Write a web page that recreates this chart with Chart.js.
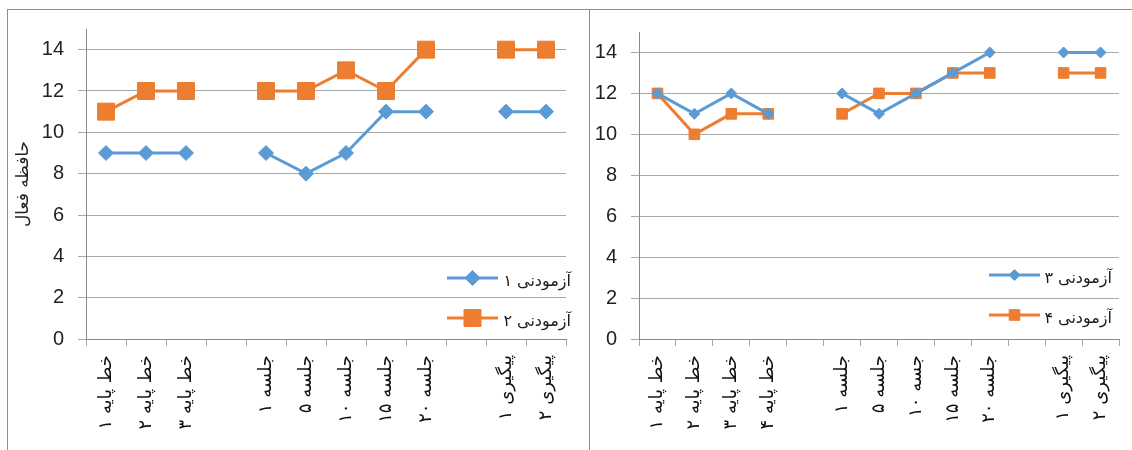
<!DOCTYPE html>
<html lang="fa">
<head>
    <meta charset="UTF-8">
    <title>حافظه فعال - آزمودنی‌ها</title>
    <script src="https://cdn.jsdelivr.net/npm/chart.js"></script>
    <style>
        body {
            margin: 0;
            background: #fff;
            width: 1132px;
            height: 450px;
            overflow: hidden;
            position: relative;
        }
        .box {
            position: absolute;
            top: 9px;
            height: 441px;
            border-top: 1px solid #8c8c8c;
        }
        #boxLeft {
            left: 7px;
            width: 581px;
            border-left: 1px solid #8c8c8c;
            border-right: 1px solid #8c8c8c;
        }
        #boxRight {
            left: 590px;
            width: 542px;
        }
    </style>
</head>
<body>
    <div class="box" id="boxLeft"><canvas id="chartLeft" width="581" height="440"></canvas></div>
    <div class="box" id="boxRight"><canvas id="chartRight" width="542" height="440"></canvas></div>

    <script>
        // نمودار چپ: آزمودنی ۱ و ۲
        const labelsLeft = ['خط پایه ۱', 'خط پایه ۲', 'خط پایه ۳', '', 'جلسه ۱', 'جلسه ۵', 'جلسه ۱۰', 'جلسه ۱۵', 'جلسه ۲۰', '', 'پیگیری ۱', 'پیگیری ۲'];
        const subject1 = [9, 9, 9, null, 9, 8, 9, 11, 11, null, 11, 11];
        const subject2 = [11, 12, 12, null, 12, 12, 13, 12, 14, null, 14, 14];

        // نمودار راست: آزمودنی ۳ و ۴
        const labelsRight = ['خط پایه ۱', 'خط پایه ۲', 'خط پایه ۳', 'خط پایه ۴', '', 'جلسه ۱', 'جلسه ۵', 'جسه ۱۰', 'جلسه ۱۵', 'جلسه ۲۰', '', 'پیگیری ۱', 'پیگیری ۲'];
        const subject3 = [12, 11, 12, 11, null, 12, 11, 12, 13, 14, null, 14, 14];
        const subject4 = [12, 10, 11, 11, null, 11, 12, 12, 13, 13, null, 13, 13];

        const yMin = 0;
        const yMax = 15;
        const yStep = 2;

        const BLUE = '#5b9bd5';
        const ORANGE = '#ed7d31';
        const GRID = '#a9a9a9';
        const AXIS = '#8a8a8a';

        // legend drawn inside the plot area (bottom right), like the Excel original
        const insideLegend = {
            id: 'insideLegend',
            afterDraw(chart, args, opts) {
                const ctx = chart.ctx;
                const area = chart.chartArea;
                chart.data.datasets.forEach((ds, i) => {
                    const y = area.bottom + opts.rows[i];
                    const x0 = area.right + opts.lineFrom;
                    const x1 = area.right + opts.lineTo;
                    ctx.save();
                    ctx.strokeStyle = ds.borderColor;
                    ctx.lineWidth = ds.borderWidth;
                    ctx.beginPath();
                    ctx.moveTo(x0, y);
                    ctx.lineTo(x1, y);
                    ctx.stroke();
                    ctx.fillStyle = ds.backgroundColor;
                    ctx.lineWidth = 1;
                    Chart.helpers.drawPoint(ctx, { pointStyle: ds.pointStyle, radius: ds.pointRadius, borderWidth: 1, rotation: 0 }, (x0 + x1) / 2, y);
                    ctx.fillStyle = '#1a1a1a';
                    ctx.font = opts.font;
                    ctx.textAlign = 'right';
                    ctx.textBaseline = 'middle';
                    ctx.fillText(ds.label, area.right + opts.textRight, y + 4);
                    ctx.restore();
                });
            }
        };

        function makeChart(id, labels, series, cfg) {
            const datasets = series.map(s => ({
                label: s.name,
                data: s.data,
                borderColor: s.color,
                backgroundColor: s.color,
                borderWidth: 3,
                pointStyle: s.style,
                pointRadius: s.radius,
                pointBorderWidth: 1,
                pointHoverRadius: s.radius,
                spanGaps: false,
                tension: 0
            }));

            return new Chart(document.getElementById(id), {
                type: 'line',
                data: { labels: labels, datasets: datasets },
                options: {
                    responsive: false,
                    animation: false,
                    layout: { padding: cfg.padding },
                    plugins: {
                        legend: { display: false },
                        tooltip: { enabled: false },
                        insideLegend: cfg.legend
                    },
                    scales: {
                        x: {
                            type: 'category',
                            offset: true,
                            grid: {
                                drawOnChartArea: false,
                                drawTicks: true,
                                tickLength: 7,
                                offset: true,
                                color: GRID
                            },
                            border: { color: AXIS, width: 1 },
                            ticks: {
                                autoSkip: false,
                                minRotation: 90,
                                maxRotation: 90,
                                padding: 9,
                                color: '#111',
                                font: { family: '"DejaVu Sans", sans-serif', size: cfg.xFont }
                            },
                            afterFit: s => { s.height = cfg.xHeight; }
                        },
                        y: {
                            min: yMin,
                            max: yMax,
                            grid: {
                                color: GRID,
                                tickLength: 8,
                                drawTicks: true
                            },
                            border: { color: AXIS, width: 1 },
                            ticks: {
                                stepSize: yStep,
                                includeBounds: false,
                                padding: 14,
                                color: '#222',
                                font: { family: '"Liberation Sans", Arial, sans-serif', size: 20 }
                            },
                            title: {
                                display: !!cfg.yTitle,
                                text: cfg.yTitle || '',
                                color: '#222',
                                padding: { top: 5, bottom: 0 },
                                font: { family: '"DejaVu Sans", sans-serif', size: 17 }
                            },
                            afterFit: s => {
                                s.width = cfg.yWidth;
                                s.paddingTop = 0;
                                s.paddingBottom = 0;
                            }
                        }
                    }
                },
                plugins: [insideLegend]
            });
        }

        makeChart('chartLeft', labelsLeft, [
            { name: 'آزمودنی ۱', data: subject1, color: BLUE, style: 'rectRot', radius: 7.5 },
            { name: 'آزمودنی ۲', data: subject2, color: ORANGE, style: 'rect', radius: 12 }
        ], {
            padding: { top: 19, right: 23, left: 0, bottom: 0 },
            yWidth: 78,
            xHeight: 111,
            xFont: 18,
            yTitle: 'حافظه فعال',
            legend: { rows: [-61, -21], lineFrom: -119, lineTo: -68, textRight: 5, font: '16px "DejaVu Sans", sans-serif' }
        });

        makeChart('chartRight', labelsRight, [
            { name: 'آزمودنی ۳', data: subject3, color: BLUE, style: 'rectRot', radius: 5.5 },
            { name: 'آزمودنی ۴', data: subject4, color: ORANGE, style: 'rect', radius: 7.5 }
        ], {
            padding: { top: 22, right: 13, left: 0, bottom: 0 },
            yWidth: 49,
            xHeight: 111,
            xFont: 18,
            yTitle: '',
            legend: { rows: [-64, -24], lineFrom: -130, lineTo: -79, textRight: -7, font: '16px "DejaVu Sans", sans-serif' }
        });
    </script>
</body>
</html>
